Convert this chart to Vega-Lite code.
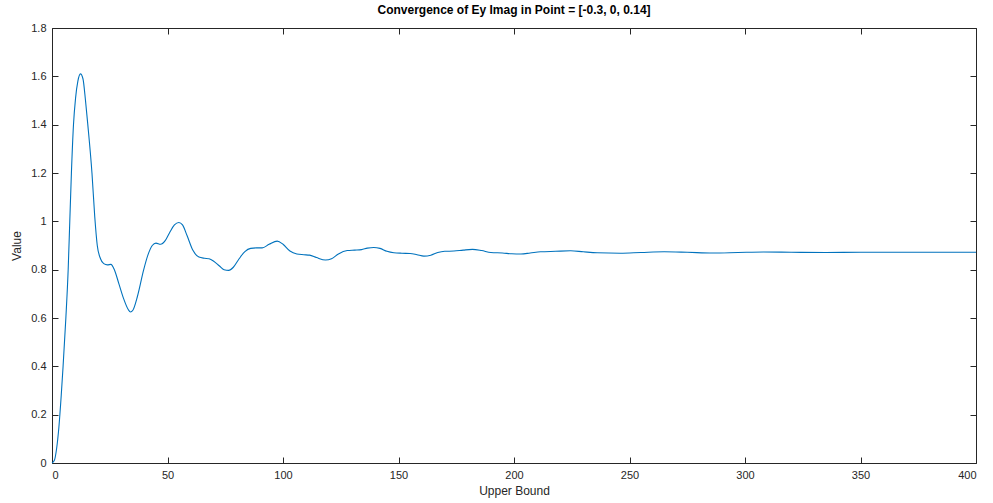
{
  "$schema": "https://vega.github.io/schema/vega-lite/v6.json",
  "autosize": "none",
  "width": 924,
  "height": 435,
  "padding": {"left": 52, "top": 28, "right": 17, "bottom": 40},
  "background": "white",
  "title": {
    "text": "Convergence of Ey Imag in Point = [-0.3, 0, 0.14]",
    "font": "Liberation Sans",
    "fontSize": 12,
    "fontWeight": "bold",
    "color": "#000000",
    "offset": 5
  },
  "config": {
    "view": {"stroke": null},
    "axis": {
      "labelFont": "Liberation Sans",
      "titleFont": "Liberation Sans",
      "labelFontSize": 11,
      "titleFontSize": 12,
      "titleFontWeight": "normal",
      "labelColor": "#262626",
      "titleColor": "#262626",
      "domainColor": "#262626",
      "tickColor": "#262626",
      "grid": false,
      "tickSize": -6
    }
  },
  "data": {
    "values": [
      {"bound": 0, "value": 0}, {"bound": 1, "value": 0.01}, {"bound": 2, "value": 0.06},
      {"bound": 3, "value": 0.15}, {"bound": 4, "value": 0.28}, {"bound": 4.8, "value": 0.4},
      {"bound": 6, "value": 0.6}, {"bound": 7, "value": 0.8}, {"bound": 7.7, "value": 1.0},
      {"bound": 8.4, "value": 1.2}, {"bound": 9.3, "value": 1.4}, {"bound": 10.2, "value": 1.51},
      {"bound": 11.2, "value": 1.58}, {"bound": 12.3, "value": 1.61}, {"bound": 13.4, "value": 1.59},
      {"bound": 14.5, "value": 1.5}, {"bound": 15.5, "value": 1.4}, {"bound": 17.3, "value": 1.2},
      {"bound": 18.5, "value": 1.02}, {"bound": 19.6, "value": 0.9}, {"bound": 21, "value": 0.845},
      {"bound": 22.4, "value": 0.825}, {"bound": 24, "value": 0.82}, {"bound": 25.5, "value": 0.822},
      {"bound": 27, "value": 0.8}, {"bound": 29, "value": 0.74}, {"bound": 31, "value": 0.68},
      {"bound": 33, "value": 0.635}, {"bound": 34, "value": 0.625}, {"bound": 35, "value": 0.632},
      {"bound": 37, "value": 0.69}, {"bound": 39.7, "value": 0.8}, {"bound": 41.5, "value": 0.86},
      {"bound": 43.4, "value": 0.9}, {"bound": 45, "value": 0.91}, {"bound": 47, "value": 0.905},
      {"bound": 49, "value": 0.92}, {"bound": 51, "value": 0.955}, {"bound": 53, "value": 0.985},
      {"bound": 54.9, "value": 0.995}, {"bound": 56.5, "value": 0.985}, {"bound": 58.5, "value": 0.94},
      {"bound": 61, "value": 0.88}, {"bound": 63.6, "value": 0.852}, {"bound": 66, "value": 0.847},
      {"bound": 68, "value": 0.845}, {"bound": 70, "value": 0.835}, {"bound": 72.5, "value": 0.815},
      {"bound": 74.5, "value": 0.8}, {"bound": 76.5, "value": 0.797}, {"bound": 78.5, "value": 0.81},
      {"bound": 81, "value": 0.845}, {"bound": 83.5, "value": 0.875}, {"bound": 86, "value": 0.888},
      {"bound": 88.5, "value": 0.89}, {"bound": 91, "value": 0.89}, {"bound": 94, "value": 0.905},
      {"bound": 97.5, "value": 0.918}, {"bound": 100, "value": 0.905}, {"bound": 103, "value": 0.877},
      {"bound": 106, "value": 0.865}, {"bound": 109, "value": 0.862}, {"bound": 111.5, "value": 0.86},
      {"bound": 114.5, "value": 0.85}, {"bound": 118.4, "value": 0.84}, {"bound": 121, "value": 0.845},
      {"bound": 124, "value": 0.865}, {"bound": 127.8, "value": 0.879}, {"bound": 131, "value": 0.881},
      {"bound": 134, "value": 0.883}, {"bound": 136.5, "value": 0.889}, {"bound": 139.3, "value": 0.892},
      {"bound": 142, "value": 0.888}, {"bound": 145, "value": 0.876}, {"bound": 148, "value": 0.87},
      {"bound": 151.5, "value": 0.868}, {"bound": 155, "value": 0.867}, {"bound": 158, "value": 0.862},
      {"bound": 161, "value": 0.856}, {"bound": 164, "value": 0.86}, {"bound": 167, "value": 0.871},
      {"bound": 170, "value": 0.876}, {"bound": 174, "value": 0.877}, {"bound": 178, "value": 0.881},
      {"bound": 182, "value": 0.884}, {"bound": 186, "value": 0.879}, {"bound": 190, "value": 0.871},
      {"bound": 195, "value": 0.869}, {"bound": 199, "value": 0.866}, {"bound": 203, "value": 0.865},
      {"bound": 207, "value": 0.869}, {"bound": 211.5, "value": 0.874}, {"bound": 218, "value": 0.876},
      {"bound": 224.5, "value": 0.878}, {"bound": 230, "value": 0.874}, {"bound": 236, "value": 0.87},
      {"bound": 246, "value": 0.868}, {"bound": 255, "value": 0.871}, {"bound": 265, "value": 0.874},
      {"bound": 275, "value": 0.872}, {"bound": 286, "value": 0.869}, {"bound": 297, "value": 0.871},
      {"bound": 308, "value": 0.873}, {"bound": 320, "value": 0.872}, {"bound": 335, "value": 0.871},
      {"bound": 350, "value": 0.872}, {"bound": 365, "value": 0.872}, {"bound": 380, "value": 0.872},
      {"bound": 400, "value": 0.872}
    ]
  },
  "layer": [
    {
      "mark": {"type": "line", "color": "#0072BD", "strokeWidth": 1.1, "interpolate": "monotone"},
      "encoding": {
        "x": {
          "field": "bound", "type": "quantitative",
          "scale": {"domain": [0, 400], "nice": false, "zero": false},
          "axis": {"title": "Upper Bound", "values": [0, 50, 100, 150, 200, 250, 300, 350, 400], "labelPadding": 12, "titlePadding": 5, "format": "d"}
        },
        "y": {
          "field": "value", "type": "quantitative",
          "scale": {"domain": [0, 1.8], "nice": false},
          "axis": {"title": "Value", "values": [0, 0.2, 0.4, 0.6, 0.8, 1, 1.2, 1.4, 1.6, 1.8], "labelPadding": 12, "titlePadding": 7, "format": "~g"}
        }
      }
    },
    {
      "mark": {"type": "line", "opacity": 0},
      "encoding": {
        "x": {
          "field": "bound", "type": "quantitative",
          "axis": {"orient": "top", "title": null, "labels": false, "values": [0, 50, 100, 150, 200, 250, 300, 350, 400]}
        },
        "y": {
          "field": "value", "type": "quantitative",
          "axis": {"orient": "right", "title": null, "labels": false, "values": [0, 0.2, 0.4, 0.6, 0.8, 1, 1.2, 1.4, 1.6, 1.8]}
        }
      }
    }
  ],
  "resolve": {"axis": {"x": "independent", "y": "independent"}}
}
